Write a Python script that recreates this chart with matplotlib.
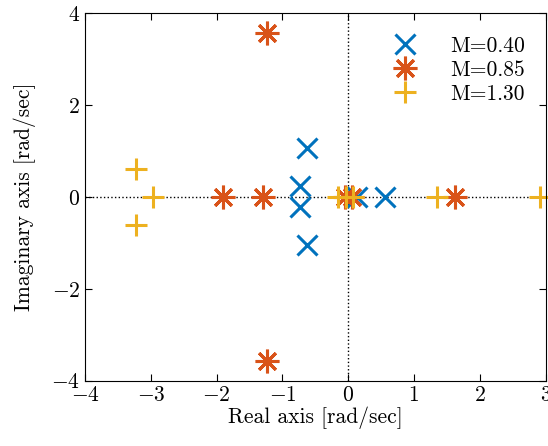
import numpy as np
import matplotlib
matplotlib.use("Agg")
import matplotlib.pyplot as plt

plt.rcParams['font.family'] = 'serif'
plt.rcParams['font.serif'] = ['cmr10']
plt.rcParams['mathtext.fontset'] = 'cm'
plt.rcParams['axes.formatter.use_mathtext'] = True
plt.rcParams['font.size'] = 15.5

# Pole locations for three values of the parameter M
labels = ['M=0.40', 'M=0.85', 'M=1.30']
colors = ['#0072BD', '#D95319', '#EDB120']
# x, asterisk (8 spokes), plus
markers = ['x', (8, 2, 0), '+']
sizes = [14, 17, 16]

re_m040 = [-0.63, -0.63, -0.73, -0.73, 0.14, 0.56]
im_m040 = [1.07, -1.05, 0.25, -0.22, 0.0, 0.0]

re_m085 = [-1.23, -1.23, -1.90, -1.30, -0.05, 0.06, 1.63]
im_m085 = [3.58, -3.58, 0.0, 0.0, 0.0, 0.0, 0.0]

re_m130 = [-3.23, -3.23, -2.96, -0.15, -0.03, 0.08, 1.35, 2.92]
im_m130 = [0.62, -0.62, 0.0, 0.0, 0.0, 0.0, 0.0, 0.0]

re_all = [re_m040, re_m085, re_m130]
im_all = [im_m040, im_m085, im_m130]

fig = plt.figure(figsize=(5.48, 4.46), dpi=100)
ax = fig.add_axes([0.155, 0.1464, 0.8405, 0.8237])

ax.axhline(0, color='k', linestyle=':', linewidth=1, zorder=0)
ax.axvline(0, color='k', linestyle=':', linewidth=1, zorder=0)

for re, im, lab, c, m, ms in zip(re_all, im_all, labels, colors, markers, sizes):
    ax.plot(re, im, linestyle='none', marker=m, color=c, markersize=ms,
            markeredgewidth=2.2, label=lab, clip_on=False)

ax.set_xlim(-4, 3)
ax.set_ylim(-4, 4)
ax.set_xticks(np.arange(-4, 4, 1))
ax.set_yticks(np.arange(-4, 5, 2))
ax.tick_params(direction='in', top=True, right=True, length=5, width=0.8)
ax.set_xlabel('Real axis [rad/sec]', labelpad=1)
ax.set_ylabel('Imaginary axis [rad/sec]', labelpad=11)

ax.legend(loc='upper right', frameon=False, handletextpad=1.3,
          bbox_to_anchor=(0.997, 0.99), labelspacing=0.2, handlelength=1.6)

fig.savefig('out.png', dpi=100)
